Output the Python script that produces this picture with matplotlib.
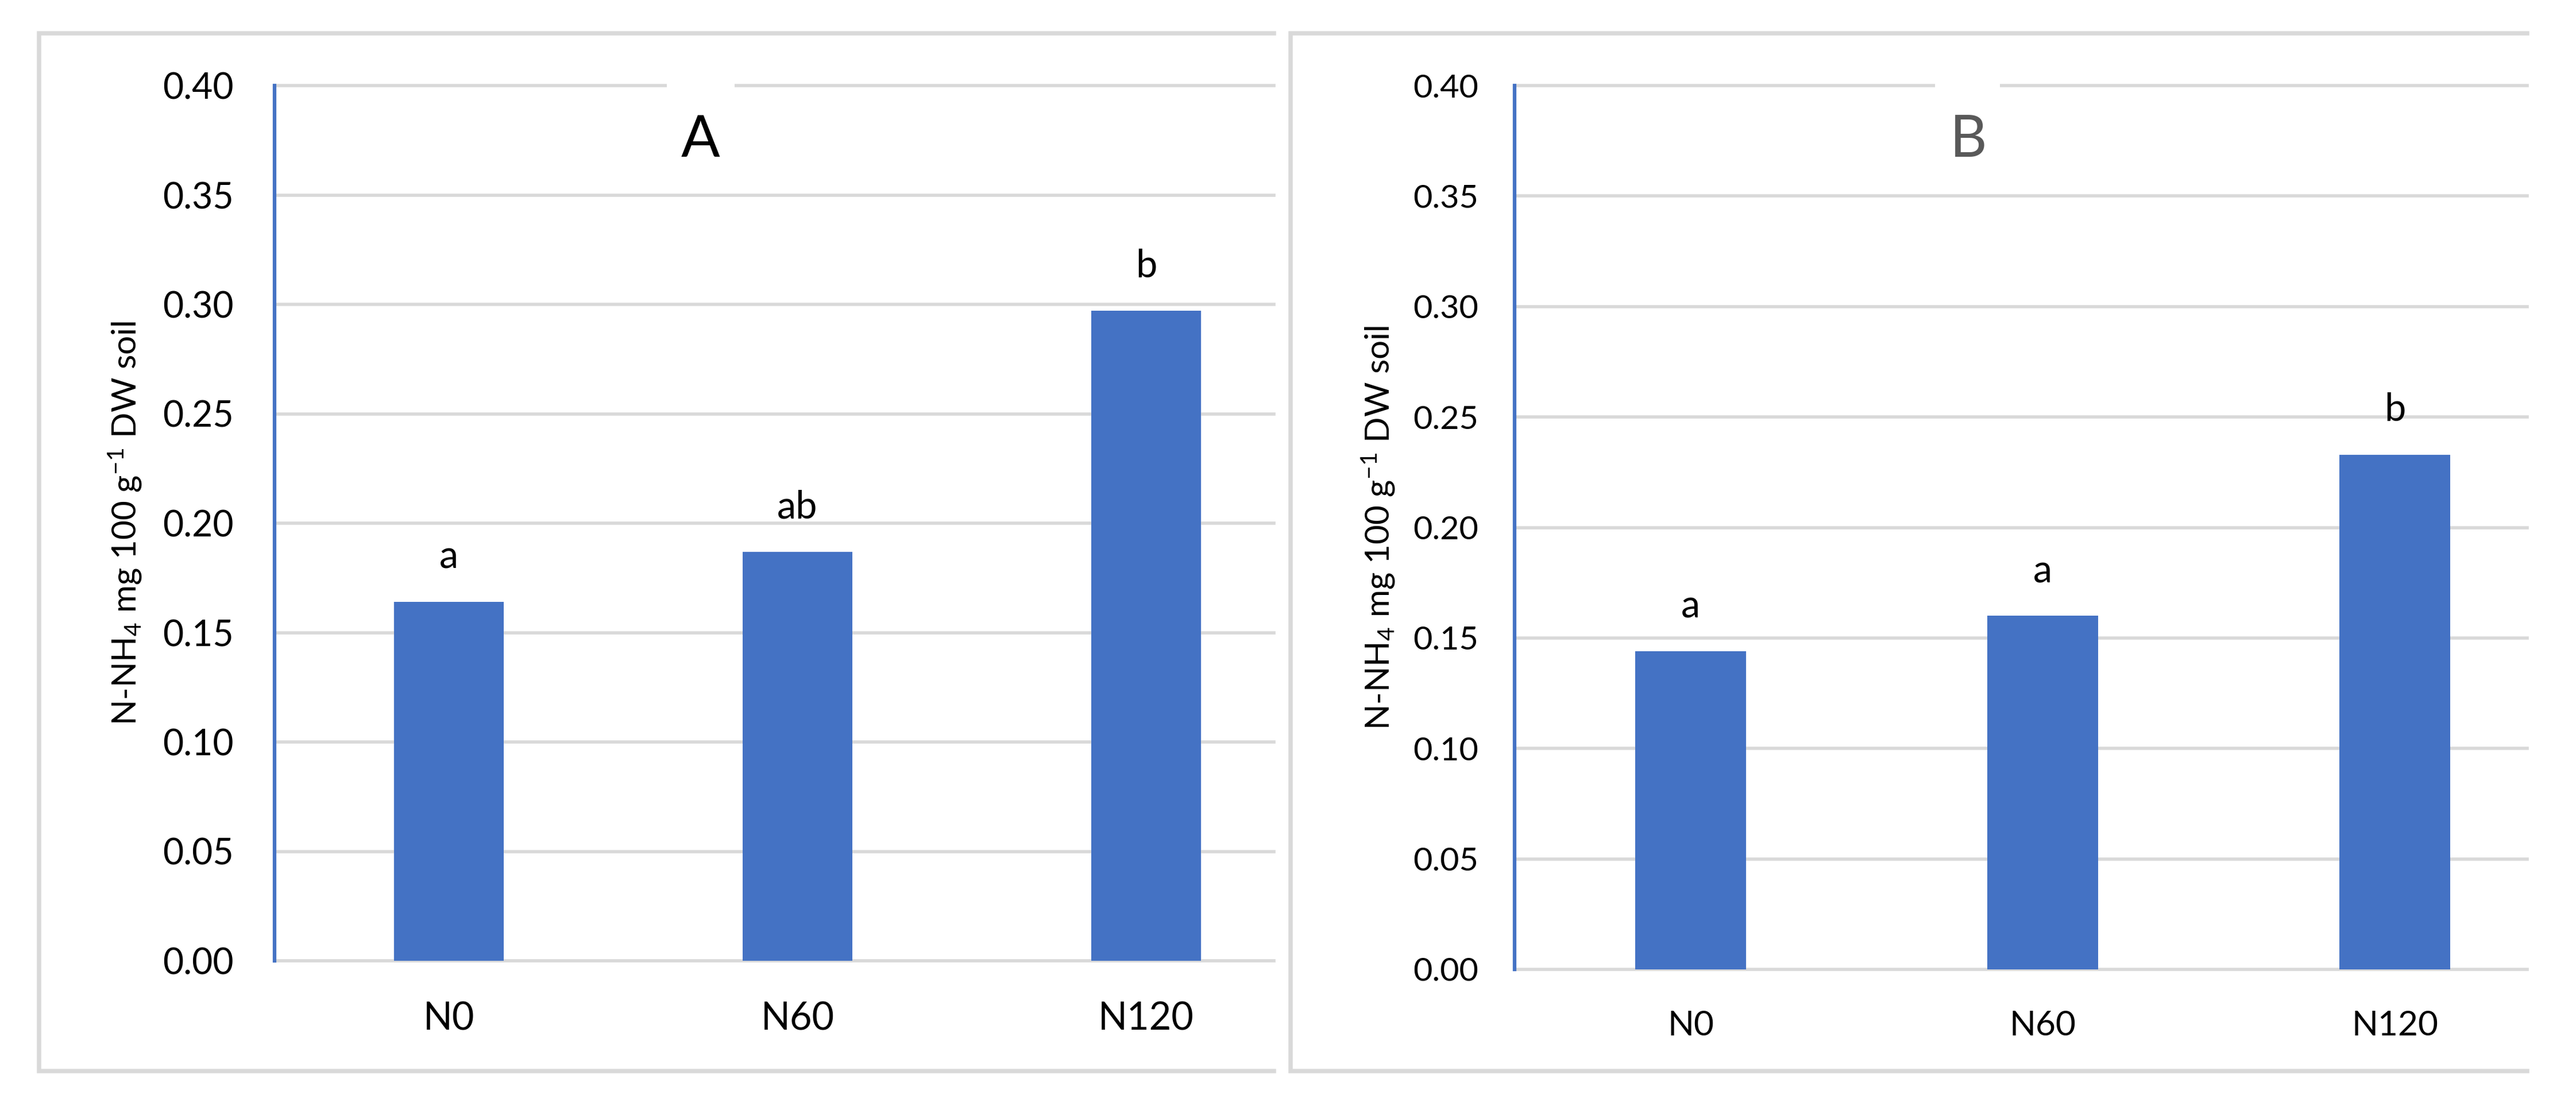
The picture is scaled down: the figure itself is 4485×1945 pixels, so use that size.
import numpy as np
import matplotlib
matplotlib.use('Agg')
import matplotlib.pyplot as plt
from matplotlib.lines import Line2D
from matplotlib.patches import Rectangle

plt.rcParams['font.family'] = ['Lato', 'DejaVu Sans']
plt.rcParams['mathtext.default'] = 'regular'

# data
treatments = ['N0', 'N60', 'N120']
nh4_A = [0.164, 0.187, 0.297]
nh4_B = [0.144, 0.160, 0.233]
letters_A = ['a', 'ab', 'b']
letters_B = ['a', 'a', 'b']
yticks = [0.00, 0.05, 0.10, 0.15, 0.20, 0.25, 0.30, 0.35, 0.40]
ylabel = 'N-NH$_4$ mg 100 g$^{-1}$ DW soil'

BLUE = '#4472C4'
GRID = '#D9D9D9'

W, H = 4485, 1945
fig = plt.figure(figsize=(W / 300, H / 300), dpi=300)


def fx(px):
    return px / W


def fy(py):
    return 1 - py / H


def panel(left, right, bottom, top, cat_w, vals, letters, tick_fs, xt_fs, ypad, lab_x):
    ax = fig.add_axes([fx(left), fy(bottom), fx(right) - fx(left), fy(top) - fy(bottom)])
    x = np.arange(len(treatments))
    ax.bar(x, vals, width=0.315, color=BLUE, zorder=2)
    for yv in yticks:
        ax.axhline(yv, color=GRID, lw=1.35, zorder=0.5, clip_on=False)
    ax.set_ylim(0, 0.40)
    ax.set_xlim(-0.5, -0.5 + (right - left) / cat_w)
    ax.set_yticks(yticks)
    ax.set_yticklabels([f'{v:.2f}' for v in yticks])
    ax.set_xticks(x)
    ax.set_xticklabels(treatments)
    ax.tick_params(axis='y', length=0, pad=ypad, labelsize=tick_fs)
    ax.tick_params(axis='x', length=0, pad=17, labelsize=xt_fs)
    for s in ['top', 'right', 'bottom']:
        ax.spines[s].set_visible(False)
    ax.spines['left'].set_color(BLUE)
    ax.spines['left'].set_linewidth(1.5)
    for i, (v, l) in enumerate(zip(vals, letters)):
        ax.annotate(l, (i, v), xytext=(0, 14), textcoords='offset points',
                    ha='center', va='baseline', fontsize=16)
    ax.set_ylabel(ylabel, fontsize=14, va='center')
    ax.yaxis.set_label_coords((lab_x - left) / (right - left), 0.5)
    return ax


axA = panel(478, 2218, 1673, 149, 607, nh4_A, letters_A, 15, 16, 17, 218)
axB = panel(2637, 4400, 1688, 149, 613, nh4_B, letters_B, 13.8, 14.5, 15, 2400)

# panel titles with the white box that cuts the top gridline
fig.text(fx(1220), fy(273), 'A', ha='center', va='baseline', fontsize=24, color='black')
fig.text(fx(3427), fy(273), 'B', ha='center', va='baseline', fontsize=24, color='#595959')
for x0, x1 in [(1161, 1279), (3369, 3482)]:
    fig.add_artist(Rectangle((fx(x0), fy(156)), fx(x1) - fx(x0), fy(142) - fy(156),
                             transform=fig.transFigure, facecolor='white',
                             edgecolor='none', zorder=5))

# chart-area frames (cut off on the right side)
for xl, xr in [(68, 2218), (2247, 4400)]:
    fig.add_artist(Line2D([fx(xr), fx(xl), fx(xl), fx(xr)],
                          [fy(58), fy(58), fy(1865), fy(1865)],
                          transform=fig.transFigure, color=GRID, lw=1.8,
                          solid_joinstyle='miter'))

fig.savefig('out.png', dpi=300)
